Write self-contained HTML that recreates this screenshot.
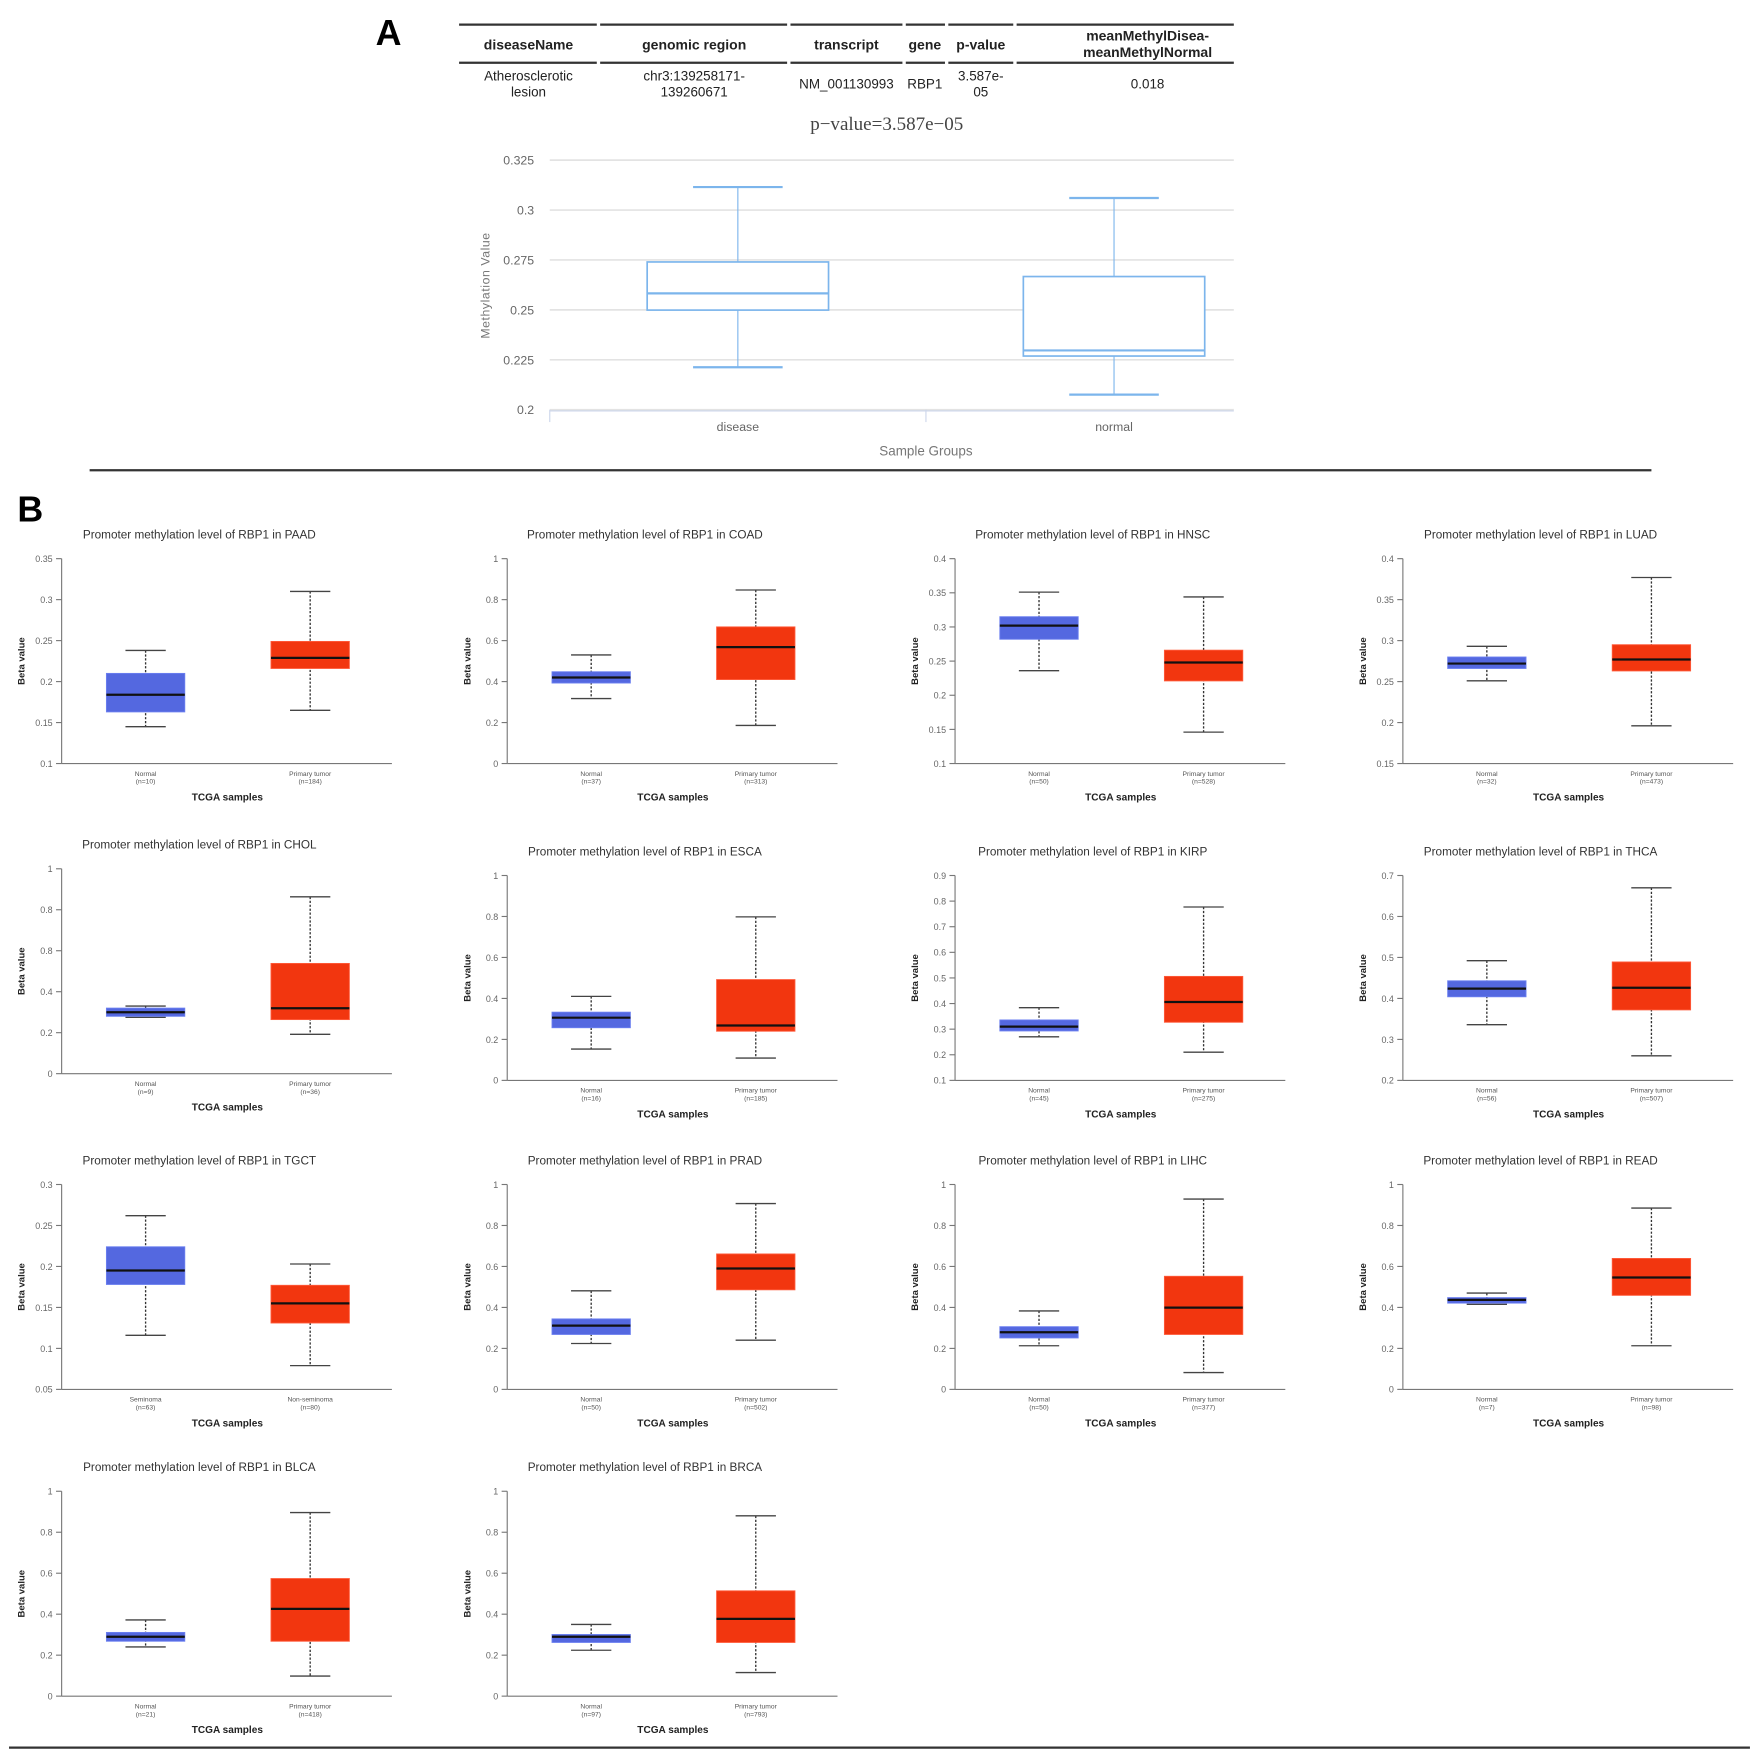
<!DOCTYPE html>
<html><head><meta charset="utf-8"><style>
html,body{margin:0;padding:0;background:#fff;}
svg{display:block;font-family:"Liberation Sans",sans-serif;}
</style></head><body>
<svg id="fig" width="1750" height="1751" viewBox="0 0 1563 1564" xmlns="http://www.w3.org/2000/svg">
<g id="partA">
<text x="347" y="40" font-size="32" font-weight="bold" text-anchor="middle">A</text>
<g stroke="#333" stroke-width="2">
<line x1="410" y1="22" x2="533" y2="22"/><line x1="536" y1="22" x2="703" y2="22"/><line x1="706" y1="22" x2="806" y2="22"/><line x1="809" y1="22" x2="844" y2="22"/><line x1="847" y1="22" x2="905" y2="22"/><line x1="908" y1="22" x2="1102" y2="22"/>
<line x1="410" y1="56" x2="533" y2="56"/><line x1="536" y1="56" x2="703" y2="56"/><line x1="706" y1="56" x2="806" y2="56"/><line x1="809" y1="56" x2="844" y2="56"/><line x1="847" y1="56" x2="905" y2="56"/><line x1="908" y1="56" x2="1102" y2="56"/>
</g>
<g font-size="12.5" font-weight="bold" fill="#222" text-anchor="middle">
<text x="472" y="44">diseaseName</text><text x="620" y="44">genomic region</text><text x="756" y="44">transcript</text><text x="826" y="44">gene</text><text x="876" y="44">p-value</text><text x="1025" y="36">meanMethylDisea-</text><text x="1025" y="51">meanMethylNormal</text>
</g>
<g font-size="12" fill="#222" text-anchor="middle">
<text x="472" y="72">Atherosclerotic</text><text x="472" y="86">lesion</text><text x="620" y="72">chr3:139258171-</text><text x="620" y="86">139260671</text><text x="756" y="79">NM_001130993</text><text x="826" y="79">RBP1</text><text x="876" y="72">3.587e-</text><text x="876" y="86">05</text><text x="1025" y="79">0.018</text>
</g>
<text x="792" y="116" font-size="17" fill="#444" text-anchor="middle" font-family="Liberation Serif,serif">p−value=3.587e−05</text>
<g id="chartA"></g>
<line x1="80" y1="420" x2="1475" y2="420" stroke="#333" stroke-width="2"/>
</g>
<text x="27" y="466" font-size="32" font-weight="bold" text-anchor="middle">B</text>
<g id="partB"></g>
<line x1="8" y1="1561" x2="1563" y2="1561" stroke="#333" stroke-width="2"/>
</svg>
<script>
// Chart A data
const aCategories = ['disease','normal'];
const aTicks = [0.2,0.225,0.25,0.275,0.3,0.325];
const aTickLabels = ['0.2','0.225','0.25','0.275','0.3','0.325'];
const aMin = [0.2213,0.2076];
const aQ1 = [0.2499,0.2269];
const aMed = [0.2583,0.2297];
const aQ3 = [0.274,0.2667];
const aMax = [0.3115,0.306];

// Panel B data
const bTitles = ['PAAD','COAD','HNSC','LUAD','CHOL','ESCA','KIRP','THCA','TGCT','PRAD','LIHC','READ','BLCA','BRCA'];
const bYMin = [0.1,0,0.1,0.15,0,0,0.1,0.2,0.05,0,0,0,0,0];
const bYMax = [0.35,1,0.4,0.4,1,1,0.9,0.7,0.3,1,1,1,1,1];
const bTickLabels = [
 ['0.1','0.15','0.2','0.25','0.3','0.35'],
 ['0','0.2','0.4','0.6','0.8','1'],
 ['0.1','0.15','0.2','0.25','0.3','0.35','0.4'],
 ['0.15','0.2','0.25','0.3','0.35','0.4'],
 ['0','0.2','0.4','0.8','0.8','1'],
 ['0','0.2','0.4','0.6','0.8','1'],
 ['0.1','0.2','0.3','0.4','0.5','0.6','0.7','0.8','0.9'],
 ['0.2','0.3','0.4','0.5','0.6','0.7'],
 ['0.05','0.1','0.15','0.2','0.25','0.3'],
 ['0','0.2','0.4','0.6','0.8','1'],
 ['0','0.2','0.4','0.6','0.8','1'],
 ['0','0.2','0.4','0.6','0.8','1'],
 ['0','0.2','0.4','0.6','0.8','1'],
 ['0','0.2','0.4','0.6','0.8','1']];
const bGroup1 = ['Normal','Normal','Normal','Normal','Normal','Normal','Normal','Normal','Seminoma','Normal','Normal','Normal','Normal','Normal'];
const bGroup2 = ['Primary tumor','Primary tumor','Primary tumor','Primary tumor','Primary tumor','Primary tumor','Primary tumor','Primary tumor','Non-seminoma','Primary tumor','Primary tumor','Primary tumor','Primary tumor','Primary tumor'];
const bN1 = ['10','37','50','32','9','16','45','56','63','50','50','7','21','97'];
const bN2 = ['184','313','528','473','36','185','275','507','80','502','377','98','418','793'];
// normal group [min,q1,med,q3,max]
const bNormMin = [0.145,0.317,0.236,0.251,0.275,0.153,0.27,0.336,0.116,0.224,0.213,0.415,0.24,0.224];
const bNormQ1  = [0.163,0.393,0.282,0.266,0.28,0.257,0.293,0.404,0.178,0.268,0.251,0.421,0.268,0.262];
const bNormMed = [0.184,0.42,0.302,0.272,0.3,0.306,0.31,0.424,0.195,0.311,0.279,0.437,0.29,0.29];
const bNormQ3  = [0.21,0.448,0.315,0.28,0.32,0.333,0.336,0.443,0.224,0.344,0.306,0.448,0.311,0.301];
const bNormMax = [0.238,0.53,0.351,0.293,0.33,0.41,0.384,0.492,0.262,0.481,0.383,0.47,0.372,0.35];
// tumor group
const bTumMin = [0.165,0.186,0.146,0.196,0.192,0.109,0.21,0.26,0.079,0.24,0.082,0.213,0.098,0.115];
const bTumQ1  = [0.216,0.41,0.221,0.263,0.264,0.24,0.327,0.372,0.131,0.486,0.268,0.459,0.268,0.262];
const bTumMed = [0.229,0.568,0.248,0.277,0.319,0.268,0.406,0.426,0.155,0.59,0.399,0.546,0.426,0.377];
const bTumQ3  = [0.249,0.667,0.266,0.295,0.538,0.492,0.506,0.489,0.177,0.661,0.552,0.639,0.574,0.514];
const bTumMax = [0.31,0.847,0.344,0.377,0.863,0.798,0.777,0.67,0.203,0.907,0.929,0.885,0.896,0.88];

const NS='http://www.w3.org/2000/svg';
function mk(parent,tag,attrs,text){const e=document.createElementNS(NS,tag);for(const k in attrs)e.setAttribute(k,attrs[k]);if(text!==undefined)e.textContent=text;parent.appendChild(e);return e;}

// ---- Chart A
(function(){
 const g=document.getElementById('chartA');
 const x0=491,x1=1102,yTop=143,yBot=366,v0=0.2,v1=0.325,band=336;
 const y=v=>yBot-(v-v0)/(v1-v0)*(yBot-yTop);
 const xc=i=>x0+band*(i+0.5);
 aTicks.forEach((t,i)=>{
  const l=mk(g,'line',{x1:x0,x2:x1,y1:y(t),y2:y(t),stroke:'#e3e3e3','stroke-width':1.5});
  
  
  const tx=mk(g,'text',{x:477,y:y(t)+4,'font-size':11,fill:'#666','text-anchor':'end'},aTickLabels[i]);
  
  
 });
 mk(g,'line',{x1:x0,x2:x0,y1:yBot,y2:yBot+11,stroke:'#ccd6eb'});
 mk(g,'line',{x1:x0+band,x2:x0+band,y1:yBot,y2:yBot+11,stroke:'#ccd6eb'});
 mk(g,'line',{x1:x0,x2:x1,y1:yBot+1,y2:yBot+1,stroke:'#ccd6eb'});
 const yl=mk(g,'text',{x:0,y:0,'font-size':11,fill:'#777','text-anchor':'middle',transform:'translate(437,255) rotate(-90)','letter-spacing':'0.5'},'Methylation Value');
 
 
 const xl=mk(g,'text',{x:827,y:407,'font-size':12,fill:'#777','text-anchor':'middle'},'Sample Groups');
 
 
 aCategories.forEach((c,i)=>{
  const cx=xc(i),hw=81,cw=40;
  const bg=mk(g,'g',{stroke:'#7cb5ec','stroke-width':1.5,fill:'none'});
  
  
  mk(bg,'line',{x1:cx,x2:cx,y1:y(aMax[i]),y2:y(aQ3[i]),'stroke-width':1});
  mk(bg,'line',{x1:cx,x2:cx,y1:y(aQ1[i]),y2:y(aMin[i]),'stroke-width':1});
  mk(bg,'line',{x1:cx-cw,x2:cx+cw,y1:y(aMax[i]),y2:y(aMax[i]),'stroke-width':2});
  mk(bg,'line',{x1:cx-cw,x2:cx+cw,y1:y(aMin[i]),y2:y(aMin[i]),'stroke-width':2});
  mk(bg,'rect',{x:cx-hw,y:y(aQ3[i]),width:2*hw,height:y(aQ1[i])-y(aQ3[i]),fill:'#fff'});
  mk(bg,'line',{x1:cx-hw,x2:cx+hw,y1:y(aMed[i]),y2:y(aMed[i]),'stroke-width':2});
  const t=mk(g,'text',{x:cx,y:385,'font-size':11,fill:'#666','text-anchor':'middle'},c);
  
  
 });
})();

// ---- Panel B
(function(){
 const root=document.getElementById('partB');
 const colX=[55,453,853,1253];
 const rowTop=[[499,499,499,499],[776,782,782,782],[1058,1058,1058,1058],[1332,1332]];
 const H=183,W=295;
 bTitles.forEach((name,k)=>{
  const r=Math.floor(k/4),c=k%4;
  const ax=colX[c],top=rowTop[r][c],bot=top+H;
  const g=mk(root,'g',{});
  
  
  const v0=bYMin[k],v1=bYMax[k];
  const y=v=>bot-(v-v0)/(v1-v0)*H;
  const t=mk(g,'text',{x:ax+123,y:top-18,'font-size':10.5,fill:'#333','text-anchor':'middle'},'Promoter methylation level of RBP1 in '+name);
  
  
  mk(g,'line',{x1:ax,x2:ax,y1:top,y2:bot,stroke:'#777','stroke-width':1});
  mk(g,'line',{x1:ax,x2:ax+W,y1:bot,y2:bot,stroke:'#777','stroke-width':1});
  const labs=bTickLabels[k],n=labs.length;
  labs.forEach((lb,i)=>{
   const yy=bot-i*H/(n-1);
   mk(g,'line',{x1:ax-5,x2:ax,y1:yy,y2:yy,stroke:'#777'});
   const tl=mk(g,'text',{x:ax-8,y:yy+3,'font-size':8,fill:'#666','text-anchor':'end'},lb);
   
   
  });
  const yt=mk(g,'text',{x:0,y:0,'font-size':8.5,'font-weight':'bold',fill:'#222','text-anchor':'middle',transform:'translate('+(ax-33)+','+(top+H/2)+') rotate(-90)'},'Beta value');
  
  
  const xt=mk(g,'text',{x:ax+148,y:bot+33,'font-size':9,'font-weight':'bold',fill:'#222','text-anchor':'middle'},'TCGA samples');
  
  
  const groups=[
   {cx:ax+75,fill:'#5468e0',edge:'#6b7ff0',mn:bNormMin[k],q1:bNormQ1[k],md:bNormMed[k],q3:bNormQ3[k],mx:bNormMax[k],lab:bGroup1[k],nn:bN1[k],nm:'normal'},
   {cx:ax+222,fill:'#f2360f',edge:'#ff5a3a',mn:bTumMin[k],q1:bTumQ1[k],md:bTumMed[k],q3:bTumQ3[k],mx:bTumMax[k],lab:bGroup2[k],nn:bN2[k],nm:'tumor'}];
  groups.forEach(gr=>{
   const bg=mk(g,'g',{});
   
   
   const cx=gr.cx,hw=35,cw=18;
   mk(bg,'line',{x1:cx,x2:cx,y1:y(gr.mx),y2:y(gr.mn),stroke:'#333','stroke-width':1.2,'stroke-dasharray':'2,1.5'});
   mk(bg,'line',{x1:cx-cw,x2:cx+cw,y1:y(gr.mx),y2:y(gr.mx),stroke:'#444','stroke-width':1.2});
   mk(bg,'line',{x1:cx-cw,x2:cx+cw,y1:y(gr.mn),y2:y(gr.mn),stroke:'#444','stroke-width':1.2});
   mk(bg,'rect',{x:cx-hw,y:y(gr.q3),width:2*hw,height:Math.max(1,y(gr.q1)-y(gr.q3)),fill:gr.fill,stroke:gr.edge,'stroke-width':0.8});
   mk(bg,'line',{x1:cx-hw,x2:cx+hw,y1:y(gr.md),y2:y(gr.md),stroke:'#111','stroke-width':2});
   const l1=mk(g,'text',{x:cx,y:bot+11,'font-size':6,fill:'#555','text-anchor':'middle'},gr.lab);
   
   
   const l2=mk(g,'text',{x:cx,y:bot+18,'font-size':6,fill:'#555','text-anchor':'middle'},'(n='+gr.nn+')');
   
   
  });
 });
})();
</script>
</body></html>
